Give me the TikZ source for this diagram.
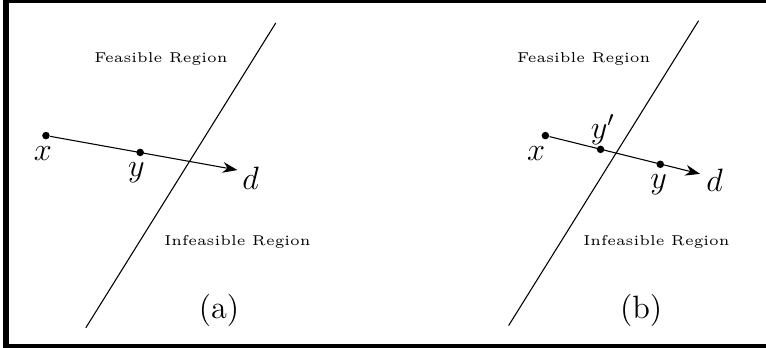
\documentclass[tikz,border=0pt]{standalone}
\usepackage{fix-cm}
\usetikzlibrary{arrows.meta}

\begin{document}
\begin{tikzpicture}[
    font=\large,
    dot/.style={circle, fill, inner sep=0pt, minimum size=2.8pt},
    region/.style={font=\fontsize{5.3}{6.5}\selectfont},
    arr/.style={-{Stealth[length=5.5pt, width=4pt]}},
  ]
  \useasboundingbox (0,0) rectangle (10,4.53);
  \draw[line width=2.2pt] (0.074,0) rectangle (10.2,4.53);

  % (a)
  \coordinate (topa) at (3.60,4.23);
  \coordinate (bota) at (1.12,0.25);
  \draw (bota) -- (topa);
  \node[dot] (xa) at (0.60,2.76) {};
  \node[dot] (ya) at (1.83,2.54) {};
  \coordinate (tipa) at (3.10,2.31);
  \draw[arr] (xa) -- (tipa);
  \node (xlaba) at (0.56,2.52) {$x$};
  \node (ylaba) at (1.78,2.27) {$y$};
  \node (dlaba) at (3.27,2.20) {$d$};
  \node[region] (feasa)   at (2.10,3.76) {Feasible Region};
  \node[region] (infeasa) at (3.10,1.37) {Infeasible Region};
  \node (capa) at (2.86,0.48) {(a)};

  % (b)
  \coordinate (topb) at (9.12,4.26);
  \coordinate (botb) at (6.64,0.28);
  \draw (botb) -- (topb);
  \node[dot] (xb)  at (7.12,2.76) {};
  \node[dot] (ypb) at (7.84,2.58) {};
  \node[dot] (yb)  at (8.62,2.385) {};
  \coordinate (tipb) at (9.14,2.26);
  \draw[arr] (xb) -- (tipb);
  \node (xlabb)  at (7.00,2.52) {$x$};
  \node (yplabb) at (7.87,2.84) {$y'$};
  \node (ylabb)  at (8.60,2.12) {$y$};
  \node (dlabb)  at (9.33,2.18) {$d$};
  \node[region] (feasb)   at (7.62,3.76) {Feasible Region};
  \node[region] (infeasb) at (8.57,1.37) {Infeasible Region};
  \node (capb) at (8.37,0.48) {(b)};
\end{tikzpicture}
\end{document}
